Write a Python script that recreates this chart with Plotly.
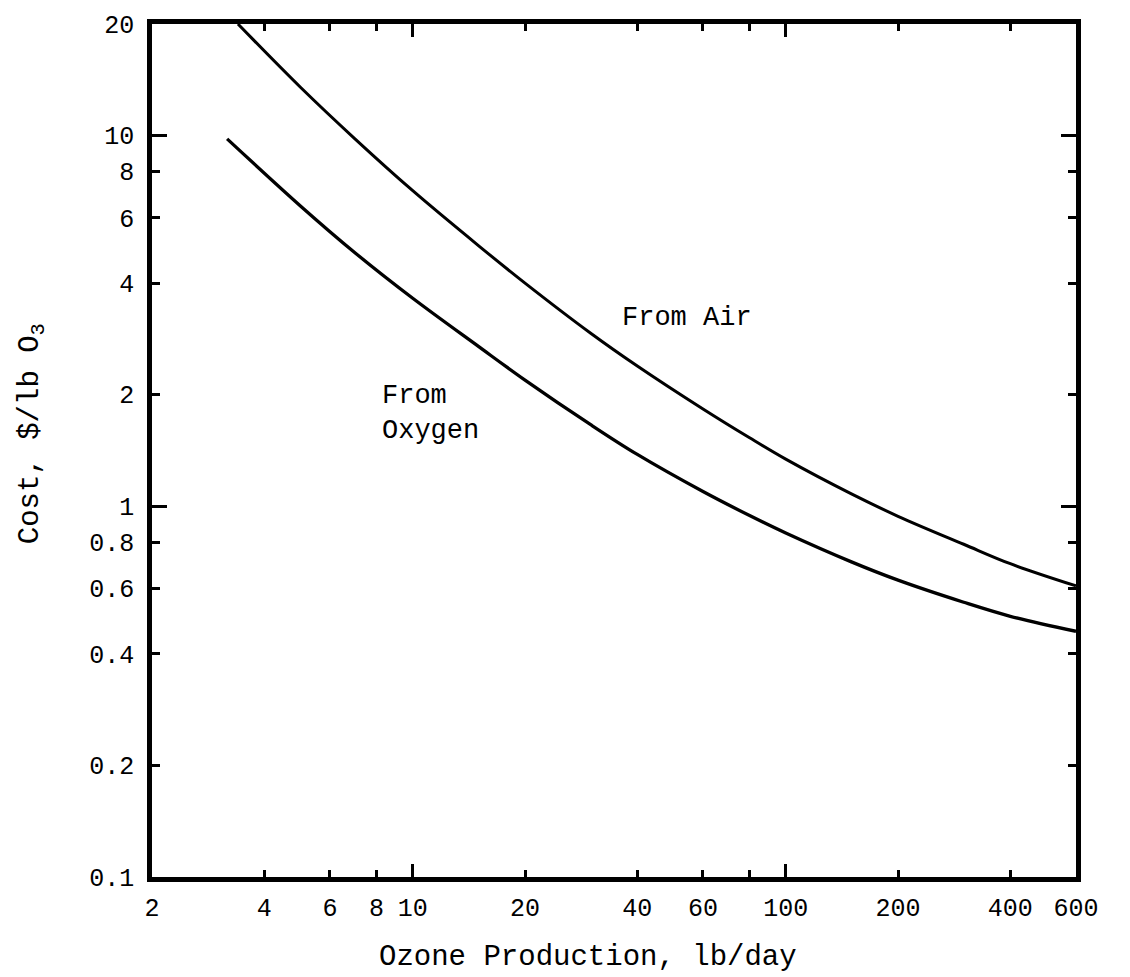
import numpy as np
import plotly.graph_objects as go

# Data (log-log chart)
air_x = [3.4, 5, 7, 10, 15, 20, 30, 40, 60, 80, 100, 150, 200, 300, 400, 600]
air_y = [20, 13.5, 9.8, 7.1, 5.05, 4.0, 2.93, 2.39, 1.83, 1.53, 1.34, 1.08, 0.94, 0.79, 0.70, 0.61]

oxy_x = [3.18, 5, 7, 10, 15, 20, 30, 40, 60, 80, 100, 150, 200, 300, 400, 600]
oxy_y = [9.8, 6.46, 4.83, 3.64, 2.70, 2.19, 1.66, 1.38, 1.096, 0.944, 0.847, 0.708, 0.632, 0.551, 0.505, 0.46]

x_tickvals = [2, 4, 6, 8, 10, 20, 40, 60, 100, 200, 400, 600]
x_ticktext = ["2", "4", "6", "8", "10", "20", "40", "60", "100", "200", "400", "600"]
x_minor_ticks = [80]
y_tickvals = [0.1, 0.2, 0.4, 0.6, 0.8, 1, 2, 4, 6, 8, 10, 20]
y_ticktext = ["0.1", "0.2", "0.4", "0.6", "0.8", "1", "2", "4", "6", "8", "10", "20"]
x_long_ticks = [10, 100]
y_long_ticks = [1, 10]

label_air = "From Air"
label_oxy = "From<br>Oxygen"
x_title = "Ozone Production, lb/day"
y_title = "Cost, $/lb O<sub>3</sub>"

FONT = "Liberation Mono"
xr = [np.log10(2), np.log10(600)]
yr = [np.log10(0.1), np.log10(20)]

fig = go.Figure()
fig.add_trace(go.Scatter(x=air_x, y=air_y, mode="lines",
                         line=dict(color="black", width=3, shape="spline", smoothing=1.0),
                         showlegend=False, hoverinfo="skip"))
fig.add_trace(go.Scatter(x=oxy_x, y=oxy_y, mode="lines",
                         line=dict(color="black", width=3.3, shape="spline", smoothing=1.0),
                         showlegend=False, hoverinfo="skip"))
# invisible trace to activate the overlay axes used for the long decade ticks
fig.add_trace(go.Scatter(x=[air_x[-1]], y=[air_y[-1]], xaxis="x2", yaxis="y2", mode="markers",
                         marker=dict(opacity=0), showlegend=False, hoverinfo="skip"))

axis_common = dict(type="log", showgrid=False, zeroline=False, showline=True, linecolor="black",
                   linewidth=4.5, ticks="inside", tickcolor="black", tickwidth=3, mirror="ticks",
                   tickfont=dict(family=FONT, size=25, color="black"))

fig.update_layout(
    width=1130, height=977,
    margin=dict(l=152, r=54, t=22, b=100),
    paper_bgcolor="white", plot_bgcolor="white",
    xaxis=dict(**axis_common, range=xr, tickmode="array", tickvals=x_tickvals, ticktext=x_ticktext,
               ticklen=7, ticklabelstandoff=4,
               minor=dict(tickmode="array", tickvals=x_minor_ticks, ticks="inside", ticklen=7,
                          tickwidth=3, tickcolor="black", showgrid=False)),
    yaxis=dict(**axis_common, range=yr, tickmode="array", tickvals=y_tickvals, ticktext=y_ticktext,
               ticklen=8, ticklabelstandoff=8),
    xaxis2=dict(type="log", range=xr, overlaying="x", side="bottom", anchor="y2", showgrid=False,
                zeroline=False, showline=False, ticks="inside", ticklen=13, tickwidth=3, tickcolor="black",
                tickmode="array", tickvals=x_long_ticks, showticklabels=False, mirror="ticks"),
    yaxis2=dict(type="log", range=yr, overlaying="y", side="left", anchor="x2", showgrid=False,
                zeroline=False, showline=False, ticks="inside", ticklen=15, tickwidth=3, tickcolor="black",
                tickmode="array", tickvals=y_long_ticks, showticklabels=False, mirror="ticks"),
    annotations=[
        dict(x=np.log10(36), y=np.log10(3.22), xref="x", yref="y", text=label_air, showarrow=False,
             xanchor="left", yanchor="middle", font=dict(family=FONT, size=27, color="black")),
        dict(x=np.log10(8.17), y=np.log10(1.78), xref="x", yref="y", text=label_oxy, showarrow=False,
             xanchor="left", yanchor="middle", align="left", font=dict(family=FONT, size=27, color="black")),
        dict(x=0.472, y=-0.094, xref="paper", yref="paper", text=x_title, showarrow=False,
             xanchor="center", yanchor="middle", font=dict(family=FONT, size=29, color="black")),
        dict(x=-0.129, y=0.52, xref="paper", yref="paper", text=y_title, showarrow=False, textangle=-90,
             xanchor="center", yanchor="middle", font=dict(family=FONT, size=29, color="black")),
    ],
)

fig.write_html("out.html")
